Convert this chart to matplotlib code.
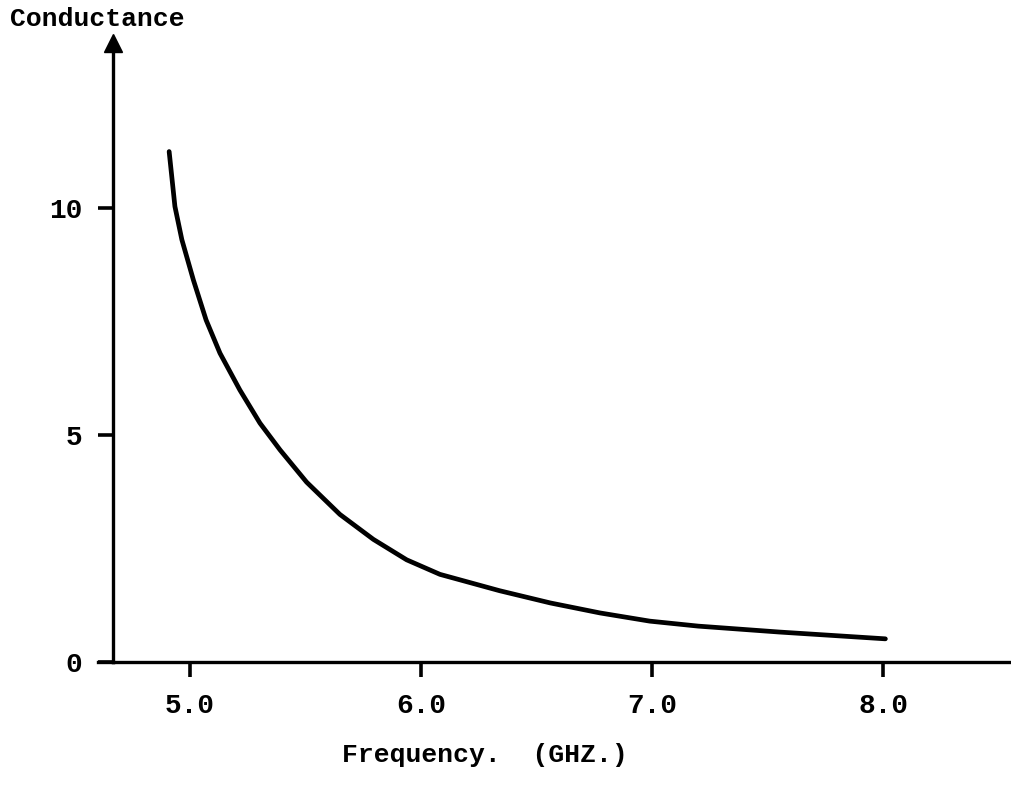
import matplotlib.pyplot as plt

# Values
freq = [4.91, 4.935, 4.965, 5.015, 5.07, 5.13, 5.216, 5.303, 5.39, 5.505,
        5.649, 5.794, 5.938, 6.082, 6.34, 6.56, 6.775, 6.99, 7.2, 7.55, 8.01]
conductance = [11.24, 10.03, 9.30, 8.41, 7.53, 6.80, 5.99, 5.26, 4.67, 3.96,
               3.25, 2.70, 2.25, 1.93, 1.57, 1.30, 1.08, 0.90, 0.79, 0.66, 0.51]

x_ticks = [5.0, 6.0, 7.0, 8.0]
x_tick_labels = ['5.0', '6.0', '7.0', '8.0']
y_ticks = [0, 5, 10]
y_tick_labels = ['0', '5', '10']

W, H = 1012, 788
fig = plt.figure(figsize=(W / 100, H / 100), dpi=100)
ax = fig.add_axes([113 / W, (H - 662) / H, (W - 113) / W, (662 - 43) / H])

font = 'Liberation Mono'

ax.plot(freq, conductance, color='black', linewidth=3.4,
        solid_capstyle='round', solid_joinstyle='round')

ax.set_xlim(4.667, 8.558)
ax.set_ylim(0, 13.63)

for side in ['top', 'right']:
    ax.spines[side].set_visible(False)
for side in ['left', 'bottom']:
    ax.spines[side].set_linewidth(2.4)

# arrow head on the y axis and small overhang of the x axis
ax.plot([0], [1], marker='^', markersize=13, color='black',
        transform=ax.transAxes, clip_on=False)
ax.plot([-0.017, 0], [0, 0], color='black', linewidth=2.4,
        transform=ax.transAxes, clip_on=False)

ax.set_xticks(x_ticks)
ax.set_xticklabels(x_tick_labels, fontfamily=font, fontsize=20, fontweight='bold')
ax.set_yticks(y_ticks)
ax.set_yticklabels(y_tick_labels, fontfamily=font, fontsize=20, fontweight='bold')
ax.tick_params(axis='both', direction='out', length=11, width=2.6, pad=11)

fig.text(10 / W, 1 - 19 / H, 'Conductance', fontfamily=font, fontsize=19,
         fontweight='bold', va='center', ha='left')
fig.text(485 / W, 1 - 755 / H, 'Frequency.  (GHZ.)', fontfamily=font,
         fontsize=19, fontweight='bold', va='center', ha='center')

fig.savefig('out.png', dpi=100)
